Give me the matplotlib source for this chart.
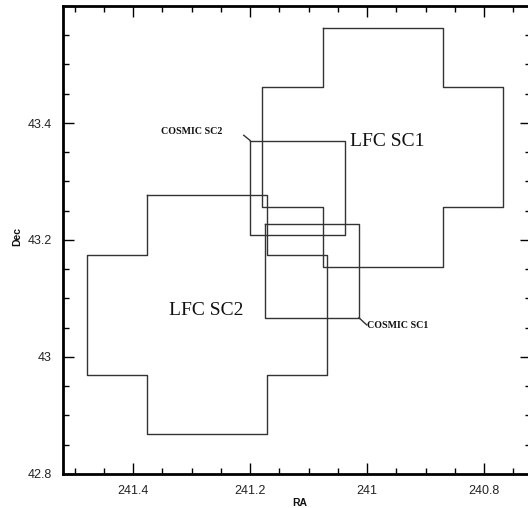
import matplotlib
matplotlib.use("Agg")
import matplotlib.pyplot as plt
from matplotlib.ticker import MultipleLocator

# LFC fields: cross-shaped outlines (RA, Dec) corner vertices
lfc_sc1_ra = [241.076, 240.871, 240.871, 240.768, 240.768, 240.871, 240.871, 241.076,
              241.076, 241.179, 241.179, 241.076, 241.076]
lfc_sc1_dec = [43.562, 43.562, 43.461, 43.461, 43.257, 43.257, 43.154, 43.154,
               43.257, 43.257, 43.461, 43.461, 43.562]

lfc_sc2_ra = [241.376, 241.171, 241.171, 241.069, 241.069, 241.171, 241.171, 241.376,
              241.376, 241.479, 241.479, 241.376, 241.376]
lfc_sc2_dec = [43.277, 43.277, 43.175, 43.175, 42.970, 42.970, 42.868, 42.868,
               42.970, 42.970, 43.175, 43.175, 43.277]

# COSMIC fields: square outlines
cosmic_sc2_ra = [241.200, 241.038, 241.038, 241.200, 241.200]
cosmic_sc2_dec = [43.370, 43.370, 43.208, 43.208, 43.370]

cosmic_sc1_ra = [241.175, 241.014, 241.014, 241.175, 241.175]
cosmic_sc1_dec = [43.227, 43.227, 43.067, 43.067, 43.227]

W, H = 528, 508
fig = plt.figure(figsize=(W / 100, H / 100), dpi=100)
ax = fig.add_axes([63 / W, (H - 474) / H, 468 / W, 468 / H])

line_kw = dict(color="#333333", lw=1.0)
ax.plot(lfc_sc1_ra, lfc_sc1_dec, **line_kw)
ax.plot(lfc_sc2_ra, lfc_sc2_dec, **line_kw)
ax.plot(cosmic_sc2_ra, cosmic_sc2_dec, **line_kw)
ax.plot(cosmic_sc1_ra, cosmic_sc1_dec, **line_kw)

# leader lines
ax.plot([241.211, cosmic_sc2_ra[0]], [43.379, cosmic_sc2_dec[0]], **line_kw)
ax.plot([241.001, cosmic_sc1_ra[2]], [43.055, cosmic_sc1_dec[2]], **line_kw)

ax.text(241.0296, 43.368, "LFC SC1", family="Liberation Serif", fontsize=14,
        ha="left", va="center", color="#111111")
ax.text(241.339, 43.079, "LFC SC2", family="Liberation Serif", fontsize=14,
        ha="left", va="center", color="#111111")
ax.text(241.247, 43.386, "COSMIC SC2", family="Liberation Serif", fontsize=7.2,
        fontweight="bold", ha="right", va="center", color="#111111")
ax.text(241.0005, 43.053, "COSMIC SC1", family="Liberation Serif", fontsize=7.2,
        fontweight="bold", ha="left", va="center", color="#111111")

ax.set_xlim(241.52, 240.72)
ax.set_ylim(42.8, 43.6)

ax.xaxis.set_major_locator(MultipleLocator(0.2))
ax.xaxis.set_minor_locator(MultipleLocator(0.05))
ax.yaxis.set_major_locator(MultipleLocator(0.2))
ax.yaxis.set_minor_locator(MultipleLocator(0.05))
ax.xaxis.set_major_formatter(plt.FuncFormatter(lambda v, p: f"{v:g}"))
ax.yaxis.set_major_formatter(
    plt.FuncFormatter(lambda v, p: "" if v > 43.59 else f"{v:g}"))

ax.tick_params(which="both", direction="in", top=True, right=True,
               color="black", width=1.0)
ax.tick_params(which="major", length=8, labelsize=9, pad=8, labelcolor="#222222")
ax.tick_params(which="minor", length=4)
for lab in ax.get_xticklabels() + ax.get_yticklabels():
    lab.set_family("Liberation Sans")
for sp in ax.spines.values():
    sp.set_linewidth(2.0)

fig.text(300 / W, 1 - 503 / H, "RA", family="Liberation Sans", fontweight="bold",
         fontsize=7.5, ha="center", va="center", color="#111111")
fig.text(17 / W, 1 - 236 / H, "Dec", family="Liberation Sans", fontweight="bold",
         fontsize=7.5, ha="center", va="center", rotation=90, color="#111111")

fig.savefig("out.png", dpi=100)
